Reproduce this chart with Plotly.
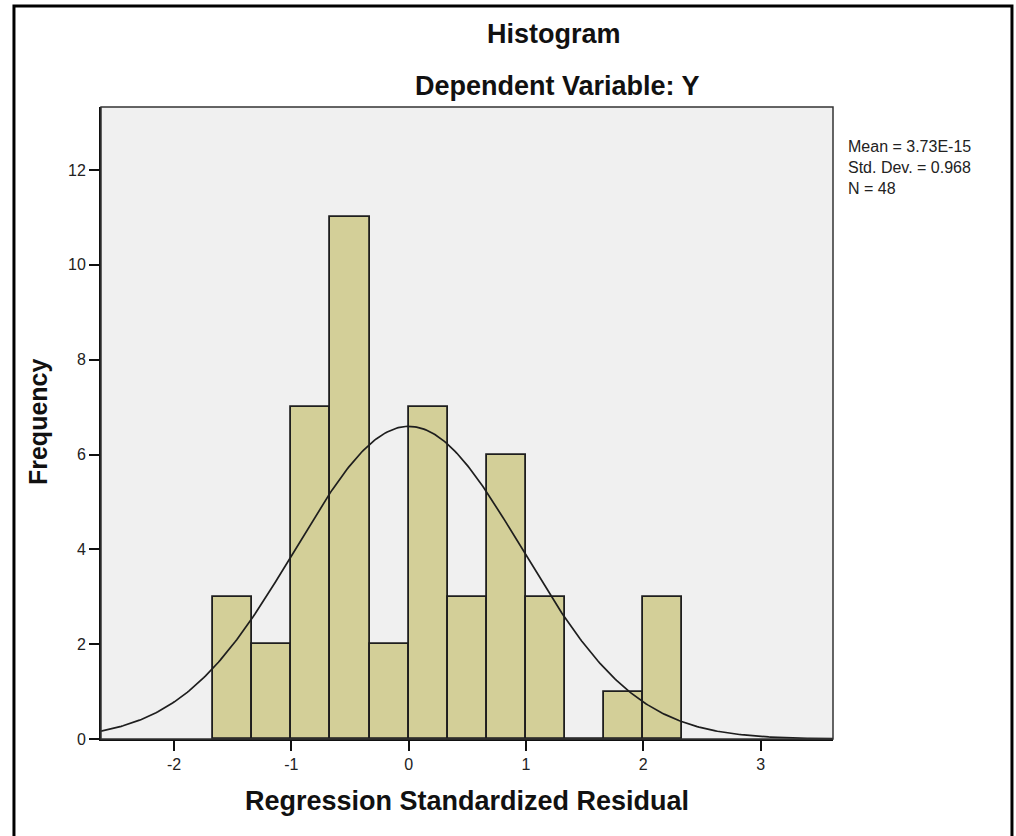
import numpy as np
import plotly.graph_objects as go

# ---- data ----
bin_start = -5/3
bin_width = 1/3
counts = [3, 2, 7, 11, 2, 7, 3, 6, 3, 0, 1, 3]
stat_mean = 3.73e-15
stat_sd = 0.968
stat_n = 48
x_ticks = [-2, -1, 0, 1, 2, 3]
x_tick_text = ["-2", "-1", "0", "1", "2", "3"]
y_ticks = [0, 2, 4, 6, 8, 10, 12]
stat_lines = ["Mean = 3.73E-15", "Std. Dev. = 0.968", "N = 48"]

bin_centers = [bin_start + bin_width * (i + 0.5) for i in range(len(counts))]

x_min, x_max = -2.623, 3.617
y_min, y_max = 0, 13.33

# normal curve defined by the reported mean / sd / N
xc = np.linspace(x_min, x_max, 400)
yc = stat_n * bin_width / (stat_sd * np.sqrt(2 * np.pi)) * np.exp(-0.5 * ((xc - stat_mean) / stat_sd) ** 2)

FONT = "Liberation Sans, Arial, sans-serif"

fig = go.Figure()
fig.add_trace(go.Bar(
    x=bin_centers, y=counts, width=bin_width,
    marker=dict(color="#d3cf98", line=dict(color="#1e1e1e", width=1.8)),
    showlegend=False, hoverinfo="x+y"))
fig.add_trace(go.Scatter(
    x=xc, y=yc, mode="lines", line=dict(color="#1e1e1e", width=1.7),
    showlegend=False, hoverinfo="skip"))

stat_text = "<br>".join(stat_lines)

annots = [
    dict(text="<b>Histogram</b>", xref="paper", yref="paper", x=0.619, y=1.1155,
         xanchor="center", yanchor="middle", showarrow=False,
         font=dict(size=27, color="#111", family=FONT)),
    dict(text="<b>Dependent Variable: Y</b>", xref="paper", yref="paper", x=0.623, y=1.033,
         xanchor="center", yanchor="middle", showarrow=False,
         font=dict(size=27, color="#111", family=FONT)),
    dict(text="<b>Regression Standardized Residual</b>", xref="paper", yref="paper",
         x=0.5, y=-0.098, xanchor="center", yanchor="middle", showarrow=False,
         font=dict(size=27, color="#111", family=FONT)),
    dict(text="<b>Frequency</b>", xref="paper", yref="paper", x=-0.086, y=0.5016,
         xanchor="center", yanchor="middle", showarrow=False, textangle=-90,
         font=dict(size=25, color="#111", family=FONT)),
    dict(text=stat_text, xref="paper", yref="paper",
         x=(846 - 101) / 732, y=(739 - 168) / 632,
         xanchor="left", yanchor="middle", align="left", showarrow=False,
         font=dict(size=16, color="#222", family=FONT)),
]

fig.update_layout(
    width=1016, height=836,
    margin=dict(l=101, r=183, t=107, b=97),
    paper_bgcolor="white", plot_bgcolor="#f0f0f0",
    font=dict(family=FONT, size=16, color="#222"),
    bargap=0,
    xaxis=dict(range=[x_min, x_max], tickmode="array", tickvals=x_ticks, ticktext=x_tick_text,
               showgrid=False, zeroline=False, showline=True, linecolor="#111", linewidth=2,
               ticks="outside", ticklen=10, tickwidth=2, tickcolor="#111",
               tickfont=dict(size=16, color="#222")),
    yaxis=dict(range=[y_min, y_max], tickmode="array", tickvals=y_ticks,
               showgrid=False, zeroline=False, showline=True, linecolor="#111", linewidth=2,
               ticks="outside", ticklen=10, tickwidth=2, tickcolor="#111",
               tickfont=dict(size=16, color="#222")),
    shapes=[
        dict(type="rect", xref="paper", yref="paper", x0=0, x1=1, y0=0, y1=1,
             line=dict(color="#333", width=1.5), fillcolor="rgba(0,0,0,0)", layer="above"),
        dict(type="rect", xref="paper", yref="paper", x0=-0.1189, x1=1.2445, y0=-0.2, y1=1.1598,
             line=dict(color="black", width=3), fillcolor="rgba(0,0,0,0)"),
    ],
    annotations=annots,
)

fig.write_html("out.html")
